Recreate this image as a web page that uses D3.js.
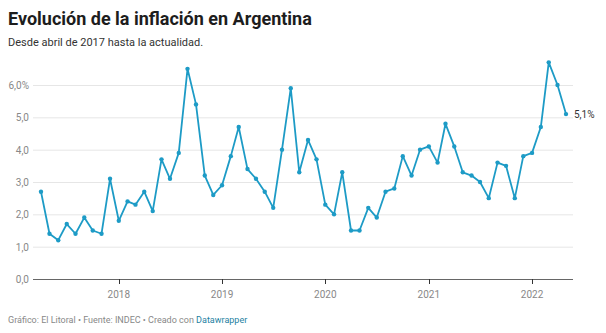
<!DOCTYPE html>
<html>
<head>
<meta charset="utf-8">
<script src="https://cdn.jsdelivr.net/npm/d3@7"></script>
<style>
  body { margin: 0; background: white; font-family: Roboto, sans-serif; }
</style>
</head>
<body>
<div id="chart"></div>
<script>
// monthly inflation, abril 2017 .. mayo 2022
var startMonth = "2017-04";
var values = [
  2.7, 1.4, 1.2, 1.7, 1.4, 1.9, 1.5, 1.4, 3.1,
  1.8, 2.4, 2.3, 2.7, 2.1, 3.7, 3.1, 3.9, 6.5, 5.4, 3.2, 2.6,
  2.9, 3.8, 4.7, 3.4, 3.1, 2.7, 2.2, 4.0, 5.9, 3.3, 4.3, 3.7,
  2.3, 2.0, 3.3, 1.5, 1.5, 2.2, 1.9, 2.7, 2.8, 3.8, 3.2, 4.0,
  4.1, 3.6, 4.8, 4.1, 3.3, 3.2, 3.0, 2.5, 3.6, 3.5, 2.5, 3.8,
  3.9, 4.7, 6.7, 6.0, 5.1
];
var yTicks = [0, 1, 2, 3, 4, 5, 6];
var xTicks = ["2018", "2019", "2020", "2021", "2022"];

var parse = d3.timeParse("%Y-%m");
var t0 = parse(startMonth);
var data = values.map(function(v, i) {
  return { date: d3.timeMonth.offset(t0, i), value: v };
});

var width = 606, height = 333;
var fmt = d3.format(".1f");
function comma(v) { return fmt(v).replace(".", ","); }

var svg = d3.select("#chart").append("svg")
    .attr("width", width)
    .attr("height", height)
    .style("background-color", "white");

svg.append("text")
    .attr("x", 8).attr("y", 25)
    .style("font-size", "18px").style("font-weight", "bold")
    .attr("fill", "#1d1d1d")
    .text("Evolución de la inflación en Argentina");

svg.append("text")
    .attr("x", 8).attr("y", 46)
    .style("font-size", "11px")
    .attr("fill", "#333")
    .text("Desde abril de 2017 hasta la actualidad.");

var x = d3.scaleTime()
    .domain([data[0].date, data[data.length - 1].date])
    .range([41, 566]);

var y = d3.scaleLinear()
    .domain([0, 6])
    .range([279, 85]);

// grid
svg.selectAll(".grid")
    .data(yTicks.slice(1))
    .enter().append("line")
    .attr("x1", 33).attr("x2", 573)
    .attr("y1", function(d) { return y(d) + 0.5; })
    .attr("y2", function(d) { return y(d) + 0.5; })
    .attr("stroke", "#e6e6e6").attr("stroke-width", 1);

svg.selectAll(".ylab")
    .data(yTicks)
    .enter().append("text")
    .attr("x", 29)
    .attr("y", function(d) { return y(d) + 4; })
    .attr("text-anchor", "end")
    .style("font-size", "10px")
    .attr("fill", "#888")
    .text(function(d) { return comma(d) + (d === 6 ? "%" : ""); });

// baseline + x axis
svg.append("line")
    .attr("x1", 33).attr("x2", 573)
    .attr("y1", y(0) + 0.5).attr("y2", y(0) + 0.5)
    .attr("stroke", "#666").attr("stroke-width", 1);

var xt = xTicks.map(function(s) { return d3.timeParse("%Y")(s); });
svg.selectAll(".xtick")
    .data(xt)
    .enter().append("line")
    .attr("x1", function(d) { return Math.round(x(d)) + 0.5; })
    .attr("x2", function(d) { return Math.round(x(d)) + 0.5; })
    .attr("y1", y(0)).attr("y2", y(0) + 5)
    .attr("stroke", "#333");

svg.selectAll(".xlab")
    .data(xt)
    .enter().append("text")
    .attr("x", function(d) { return x(d); })
    .attr("y", 298)
    .attr("text-anchor", "middle")
    .style("font-size", "10px")
    .attr("fill", "#888")
    .text(d3.timeFormat("%Y"));

// line
var line = d3.line()
    .x(function(d) { return x(d.date); })
    .y(function(d) { return y(d.value); });

svg.append("path")
    .datum(data)
    .attr("d", line)
    .attr("fill", "none")
    .attr("stroke", "#1d9bc6")
    .attr("stroke-width", 1.8)
    .attr("stroke-linejoin", "round");

svg.selectAll(".dot")
    .data(data)
    .enter().append("circle")
    .attr("cx", function(d) { return x(d.date); })
    .attr("cy", function(d) { return y(d.value); })
    .attr("r", 2.2)
    .attr("fill", "#1d9bc6");

var last = data[data.length - 1];
svg.append("text")
    .attr("x", x(last.date) + 8)
    .attr("y", y(last.value) + 3.5)
    .style("font-size", "10px")
    .attr("fill", "#333")
    .text(comma(last.value) + "%");

// footer
var foot = svg.append("text")
    .attr("x", 8).attr("y", 323)
    .style("font-size", "9px")
    .attr("fill", "#888");
foot.append("tspan").text("Gráfico: El Litoral • Fuente: INDEC • Creado con ");
foot.append("tspan").attr("fill", "#1d81a2").text("Datawrapper");
</script>
</body>
</html>
